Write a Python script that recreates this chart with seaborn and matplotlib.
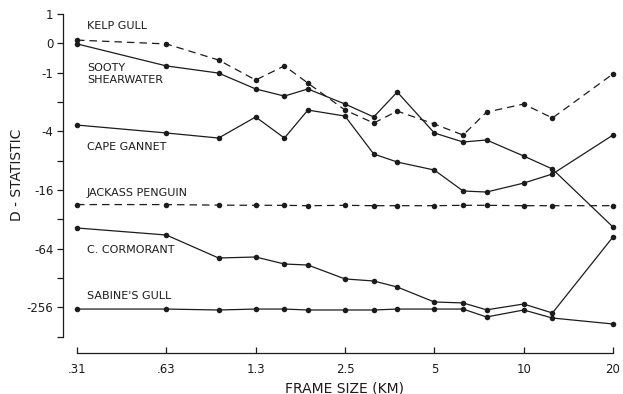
import numpy as np
import pandas as pd
import matplotlib
matplotlib.use("Agg")
import matplotlib.pyplot as plt
import seaborn as sns
from matplotlib.ticker import FixedLocator, FixedFormatter, NullLocator

# ---------------- data ----------------
frame_km = [0.3125, 0.625, 0.9375, 1.25, 1.5625, 1.875, 2.5, 3.125, 3.75,
            5.0, 6.25, 7.5, 10.0, 12.5, 20.0]
kelp_gull = [0.11, -0.02, -0.57, -1.19, -0.77, -1.28, -2.42, -3.29, -2.48,
             -3.37, -4.37, -2.54, -2.10, -2.92, -1.03]
sooty_shearwater = [-0.02, -0.77, -1.01, -1.47, -1.74, -1.47, -2.10, -2.85, -1.58,
                    -4.16, -5.15, -4.91, -7.17, -9.75, -38.4]
cape_gannet = [-3.45, -4.16, -4.69, -2.85, -4.69, -2.42, -2.79, -6.84, -8.27,
               -9.99, -16.4, -16.8, -13.6, -10.97, -4.37]
jackass_penguin = [-22.6, -22.6, -22.9, -23.0, -23.0, -23.2, -23.0, -23.2, -23.2,
                   -23.2, -23.0, -23.0, -23.2, -23.2, -23.2]
c_cormorant = [-39.3, -46.4, -79.9, -78.0, -92.1, -94.3, -131.0, -137.6, -158.6,
               -226.0, -231.0, -272.0, -237.0, -293.0, -48.6]
sabines_gull = [-267.0, -267.0, -273.0, -267.0, -267.0, -273.0, -273.0, -273.0, -267.0,
                -267.0, -267.0, -322.0, -273.0, -330.0, -380.0]

x_ticks = [0.3125, 0.625, 1.25, 2.5, 5.0, 10.0, 20.0]
x_ticklabels = [".31", ".63", "1.3", "2.5", "5", "10", "20"]
y_ticks = [1, 0, -1, -2, -4, -8, -16, -32, -64, -128, -256, -512]
y_ticklabels = ["1", "0", "-1", "", "-4", "", "-16", "", "-64", "", "-256", ""]

series = [
    ("KELP GULL", kelp_gull, True),
    ("SOOTY\nSHEARWATER", sooty_shearwater, False),
    ("CAPE GANNET", cape_gannet, False),
    ("JACKASS PENGUIN", jackass_penguin, True),
    ("C. CORMORANT", c_cormorant, False),
    ("SABINE'S GULL", sabines_gull, False),
]

# ---------------- scale ----------------
def fwd(d):
    d = np.asarray(d, dtype=float)
    return np.where(d > -1, d, -1.0 - np.log2(np.maximum(-d, 1.0)))

def inv(u):
    u = np.asarray(u, dtype=float)
    return np.where(u > -1, u, -np.power(2.0, np.minimum(-1.0 - u, 60)))

sns.set_style("white")
plt.rcParams["font.family"] = ["DejaVu Sans"]

W, H = 623, 394
fig = plt.figure(figsize=(W / 100, H / 100), dpi=100)
left_px, right_px, top_px, bot_px = 63, 620, 14.0, 336.6
ax = fig.add_axes([left_px / W, 1 - bot_px / H,
                   (right_px - left_px) / W, (bot_px - top_px) / H])

ax.set_xscale("log", base=2)
ax.set_yscale("function", functions=(fwd, inv))

ink = "#1c1c1c"
for name, vals, dashed in series:
    df = pd.DataFrame({"frame": frame_km, "D": vals})
    kw = dict(linestyle=(0, (6, 4))) if dashed else dict(linestyle="-")
    sns.lineplot(data=df, x="frame", y="D", ax=ax, color=ink, marker="o",
                 markersize=4, markeredgewidth=0, linewidth=0.9,
                 estimator=None, sort=False, **kw)

# limits
px_per_doubling = 89.33
ax.set_xlim(0.3125 * 2 ** ((left_px - 77) / px_per_doubling),
            0.3125 * 2 ** ((right_px - 77) / px_per_doubling))
ax.set_ylim(-512, 1)

# spines
for s in ["top", "right"]:
    ax.spines[s].set_visible(False)
ax.spines["left"].set_color(ink)
ax.spines["left"].set_linewidth(0.9)
ax.spines["bottom"].set_color(ink)
ax.spines["bottom"].set_linewidth(0.9)
ax.spines["bottom"].set_position(("outward", 11.8))
ax.spines["bottom"].set_bounds(0.3125, 20.0)

ax.xaxis.set_major_locator(FixedLocator(x_ticks))
ax.xaxis.set_major_formatter(FixedFormatter(x_ticklabels))
ax.xaxis.set_minor_locator(NullLocator())
ax.yaxis.set_major_locator(FixedLocator(y_ticks))
ax.yaxis.set_major_formatter(FixedFormatter(y_ticklabels))
ax.yaxis.set_minor_locator(NullLocator())

ax.tick_params(axis="x", direction="in", length=4, width=0.9, color=ink,
               labelsize=8.5, labelcolor=ink, pad=7, bottom=True)
ax.tick_params(axis="y", direction="out", length=4, width=0.9, color=ink,
               labelsize=8.5, labelcolor=ink, pad=3, left=True)

ax.set_xlabel("FRAME SIZE (KM)", fontsize=10, color=ink)
ax.set_ylabel("D - STATISTIC", fontsize=10, color=ink)
ax.xaxis.set_label_coords((345 - left_px) / (right_px - left_px),
                          (bot_px - 381) / (bot_px - top_px))
ax.yaxis.set_label_coords((24 - left_px) / (right_px - left_px),
                          (bot_px - 175) / (bot_px - top_px))

# species labels (figure pixel positions)
label_pos = {
    "KELP GULL": (87, 26),
    "SOOTY\nSHEARWATER": (87, 74),
    "CAPE GANNET": (87, 147),
    "JACKASS PENGUIN": (87, 193),
    "C. CORMORANT": (87, 250),
    "SABINE'S GULL": (87, 296),
}
for name, _, _ in series:
    px, py = label_pos[name]
    fig.text(px / W, 1 - py / H, name, fontsize=8, color=ink,
             ha="left", va="center", linespacing=1.15)

fig.savefig("out.png", dpi=100, facecolor="white")
